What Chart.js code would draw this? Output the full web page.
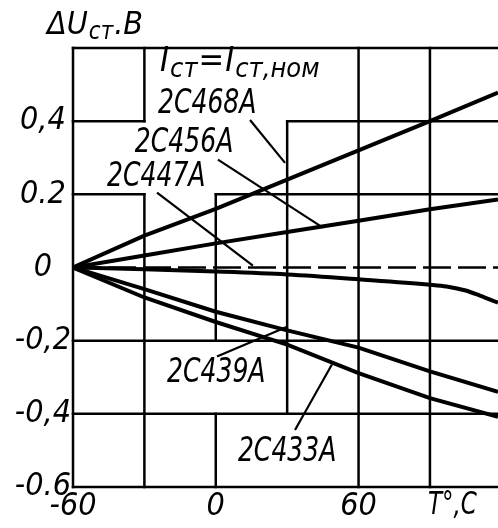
<!DOCTYPE html>
<html lang="ru">
<head>
<meta charset="UTF-8">
<title>ΔUст от температуры</title>
<script src="https://cdn.jsdelivr.net/npm/chart.js"></script>
<style>
    body { margin: 0; background: #fff; }
    canvas { display: block; }
</style>
</head>
<body>
<canvas id="chart" width="498" height="528"></canvas>
<script>
    // температура, °C
    const tLine = [-60, -30, 0, 30, 60, 90, 118.6];
    const tCurve = [-60, -30, 0, 30, 60, 90, 97, 105, 111, 118.6];

    // ΔUст, В
    const u468 = [0, 0.087, 0.16, 0.24, 0.32, 0.40, 0.478];
    const u456 = [0, 0.033, 0.066, 0.097, 0.128, 0.159, 0.186];
    const u447 = [0, -0.005, -0.011, -0.019, -0.032, -0.047, -0.052, -0.063, -0.077, -0.096];
    const u439 = [0, -0.059, -0.121, -0.172, -0.219, -0.284, -0.34];
    const u433 = [0, -0.082, -0.149, -0.211, -0.289, -0.357, -0.408];

    const xMin = -60, xMax = 118.6, yMin = -0.6, yMax = 0.6;
    const xTicks = [-60, -30, 0, 30, 60, 90];
    const xTickLabels = ['-60', '', '0', '', '60', ''];
    const yTicks = [-0.6, -0.4, -0.2, 0, 0.2, 0.4, 0.6];
    const yTickLabels = ['-0.6', '-0,4', '-0,2', '0', '0.2', '0,4', ''];

    // куски сетки (в единицах осей)
    const vGrid = [[-60, -0.6, 0.6], [-30, 0.4, 0.6], [-30, -0.6, 0.2], [0, -0.2, 0.2], [0, -0.6, -0.4],
                   [30, -0.4, 0.4], [60, -0.6, 0.6], [90, -0.6, 0.6]];
    const hGrid = [[0.6, -60, xMax], [0.4, -60, -30], [0.4, 30, xMax], [0.2, -60, -30], [0.2, 0, xMax],
                   [-0.2, -60, xMax], [-0.4, -60, xMax], [-0.6, -60, xMax]];

    const names = ['2С468А', '2С456А', '2С447А', '2С439А', '2С433А'];
    const namePos = [[-24.3, 0.446], [-34, 0.34], [-45.7, 0.246], [-20.5, -0.289], [9.3, -0.504]];
    const leaders = [[14.4, 0.403, 29.1, 0.286], [0.9, 0.295, 45, 0.109], [-24.7, 0.205, 15.6, 0.005],
                     [0.5, -0.243, 30, -0.162], [33.3, -0.444, 48.8, -0.265]];

    const FONT = '"DejaVu Sans Condensed", sans-serif';

    function pts(t, u) {
        return t.map((x, i) => ({ x: x, y: u[i] }));
    }

    // текст, сжатый по ширине; возвращает ширину
    function narrowText(ctx, text, x, y, size, sx) {
        ctx.font = 'italic ' + size + 'px ' + FONT;
        ctx.save();
        ctx.translate(x, y);
        ctx.scale(sx, 1);
        ctx.fillText(text, 0, 0);
        ctx.restore();
        return ctx.measureText(text).width * sx;
    }

    const gridPlugin = {
        id: 'grid',
        beforeDatasetsDraw(chart) {
            const { ctx, scales: { x, y } } = chart;
            ctx.save();
            ctx.strokeStyle = '#000';
            ctx.lineWidth = 2.5;
            ctx.lineCap = 'square';
            vGrid.forEach(g => {
                ctx.beginPath();
                ctx.moveTo(x.getPixelForValue(g[0]), y.getPixelForValue(g[1]));
                ctx.lineTo(x.getPixelForValue(g[0]), y.getPixelForValue(g[2]));
                ctx.stroke();
            });
            hGrid.forEach(g => {
                ctx.beginPath();
                ctx.moveTo(x.getPixelForValue(g[1]), y.getPixelForValue(g[0]));
                ctx.lineTo(x.getPixelForValue(g[2]), y.getPixelForValue(g[0]));
                ctx.stroke();
            });
            // нулевая линия пунктиром
            ctx.lineCap = 'butt';
            ctx.setLineDash([28, 7]);
            ctx.beginPath();
            ctx.moveTo(x.getPixelForValue(-60), y.getPixelForValue(0));
            ctx.lineTo(x.getPixelForValue(xMax), y.getPixelForValue(0));
            ctx.stroke();
            ctx.restore();
        },
        afterDatasetsDraw(chart) {
            const { ctx, chartArea, scales: { x, y } } = chart;
            ctx.save();
            ctx.strokeStyle = '#000';
            ctx.fillStyle = '#000';
            ctx.lineWidth = 2.2;
            leaders.forEach(l => {
                ctx.beginPath();
                ctx.moveTo(x.getPixelForValue(l[0]), y.getPixelForValue(l[1]));
                ctx.lineTo(x.getPixelForValue(l[2]), y.getPixelForValue(l[3]));
                ctx.stroke();
            });
            ctx.textBaseline = 'middle';
            ctx.textAlign = 'left';
            names.forEach((n, i) => {
                narrowText(ctx, n, x.getPixelForValue(namePos[i][0]), y.getPixelForValue(namePos[i][1]), 34, 0.82);
            });

            // Iст = Iст,ном
            let px = x.getPixelForValue(-23.4), py = y.getPixelForValue(0.56);
            [['I', 0], ['ст', 1], ['=', 0], ['I', 0], ['ст,ном', 1]].forEach(p => {
                px += narrowText(ctx, p[0], px, py + (p[1] ? 7 : 0), p[1] ? 27 : 34, 1) + 1;
            });

            // подпись оси Y
            px = chartArea.left - 26;
            py = chartArea.top - 22;
            [['ΔU', 0], ['ст', 1], ['.В', 0]].forEach(p => {
                px += narrowText(ctx, p[0], px, py + (p[1] ? 7 : 0), p[1] ? 24 : 32, 1) + 1;
            });

            // подпись оси X
            narrowText(ctx, 'T°,C', x.getPixelForValue(90) - 2, chartArea.bottom + 19, 32, 0.8);
            ctx.restore();
        }
    };

    const line = (label, data, extra) => Object.assign({
        label: label,
        data: data,
        borderColor: '#000',
        borderWidth: 4,
        pointRadius: 0,
        tension: 0
    }, extra || {});

    new Chart(document.getElementById('chart'), {
        type: 'line',
        data: {
            datasets: [
                line(names[0], pts(tLine, u468)),
                line(names[1], pts(tLine, u456)),
                line(names[2], pts(tCurve, u447), { cubicInterpolationMode: 'monotone' }),
                line(names[3], pts(tLine, u439)),
                line(names[4], pts(tLine, u433))
            ]
        },
        options: {
            responsive: false,
            devicePixelRatio: 1,
            animation: false,
            layout: { padding: { top: 48, right: 0, bottom: 0, left: 0 } },
            plugins: { legend: { display: false }, tooltip: { enabled: false } },
            scales: {
                x: {
                    type: 'linear',
                    min: xMin,
                    max: xMax,
                    afterBuildTicks: s => { s.ticks = xTicks.map(v => ({ value: v })); },
                    afterFit: s => { s.height = 41; },
                    grid: { display: false, drawTicks: false },
                    border: { display: false },
                    ticks: {
                        autoSkip: false,
                        maxRotation: 0,
                        padding: 0,
                        color: '#000',
                        font: { family: FONT, size: 32, style: 'italic' },
                        callback: v => xTickLabels[xTicks.indexOf(v)]
                    }
                },
                y: {
                    type: 'linear',
                    min: yMin,
                    max: yMax,
                    afterBuildTicks: s => { s.ticks = yTicks.map(v => ({ value: v })); },
                    afterFit: s => { s.width = 73; },
                    grid: { display: false, drawTicks: false },
                    border: { display: false },
                    ticks: {
                        autoSkip: false,
                        padding: 2,
                        crossAlign: 'center',
                        color: '#000',
                        font: { family: FONT, size: 32, style: 'italic' },
                        callback: v => yTickLabels[yTicks.indexOf(v)]
                    }
                }
            }
        },
        plugins: [gridPlugin]
    });
</script>
</body>
</html>
